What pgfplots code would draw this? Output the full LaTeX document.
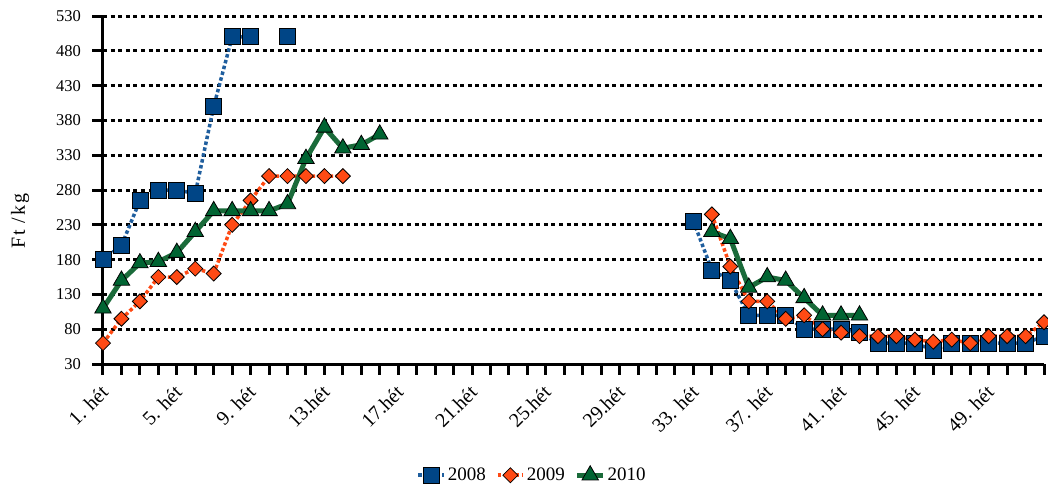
\documentclass[border=0pt]{standalone}
\usepackage{fontspec}
\setmainfont{Liberation Serif}
\usepackage{pgfplots}
\usepackage{pgfplotstable}
\pgfplotsset{compat=1.18}
\definecolor{c08}{HTML}{004586}
\definecolor{c08l}{HTML}{1F5E9E}
\definecolor{c09}{HTML}{FF4A14}
\definecolor{c10}{HTML}{006432}
\definecolor{c10l}{HTML}{1A6B3A}

\pgfplotstableread{
w a b c
1 180 60 110
2 200 95 150
3 265 120 175
4 280 155 177
5 280 155 190
6 275 167 220
7 400 160 250
8 500 230 250
9 500 265 250
10 nan 300 250
11 500 300 260
12 nan 300 325
13 nan 300 370
14 nan 300 340
15 nan nan 345
16 nan nan 360
17 nan nan nan
32 nan nan nan
33 235 nan nan
34 165 245 220
35 150 170 210
36 100 120 140
37 100 120 155
38 100 95 150
39 80 100 125
40 80 80 100
41 80 75 100
42 75 70 100
43 60 70 nan
44 60 70 nan
45 60 65 nan
46 50 62 nan
47 60 65 nan
48 60 60 nan
49 60 70 nan
50 60 70 nan
51 60 70 nan
52 70 90 nan
}\data

\begin{document}
\begin{tikzpicture}
\begin{axis}[
  name=ax,
  scale only axis, width=941pt, height=348pt,
  xmin=1, xmax=52, ymin=30, ymax=530,
  axis x line*=bottom, axis y line*=left,
  axis line style={line width=3pt, black},
  xtick={1,5,...,49},
  xticklabels={1. hét, 5. hét, 9. hét, 13.hét, 17.hét, 21.hét, 25.hét, 29.hét, 33. hét, 37. hét, 41. hét, 45. hét, 49. hét},
  minor xtick={1,...,52},
  ytick={30,80,...,530},
  tick align=outside,
  major tick length=10.5pt, minor tick length=10.5pt,
  every tick/.style={line width=3pt, black},
  every minor tick/.style={line width=3pt, black},
  ymajorgrids,
  major grid style={black, line width=3pt, dash pattern=on 4pt off 3.6pt},
  unbounded coords=jump,
  xticklabel style={xshift=4pt, yshift=-12pt, rotate=45, anchor=east, font=\fontsize{20}{22}\selectfont},
  yticklabel style={xshift=-8pt, font=\fontsize{16.5}{18}\selectfont},
  /pgf/number format/assume math mode=true,
  ylabel={Ft /kg},
  ylabel style={at={(axis description cs:-0.088,0.41)}, anchor=center, font=\fontsize{20}{22}\selectfont\addfontfeature{LetterSpace=10}},
  legend style={at={(axis description cs:0.456,-0.319)}, anchor=center, draw=none, fill=none,
    legend columns=3, font=\fontsize{19}{21}\selectfont,
    /tikz/every even column/.append style={column sep=8pt}},
  legend image code/.code={\draw[mark repeat=2,mark phase=2] plot coordinates {(0cm,0cm) (0.45cm,0cm) (0.9cm,0cm)};},
]
\addplot[c08l, line width=3.5pt, dash pattern=on 3.5pt off 2.5pt, mark=square*, mark size=8pt,
  mark options={solid, fill=c08, draw=black, line width=0.8pt}] table[x=w,y=a]{\data};
\addlegendentry{2008}
\addplot[c09, line width=3.5pt, dash pattern=on 3.5pt off 2.5pt, mark=square*, mark size=5.3pt,
  mark options={solid, rotate=45, fill=c09, draw=black, line width=0.8pt}] table[x=w,y=b]{\data};
\addlegendentry{2009}
\addplot[c10l, line width=5pt, mark=triangle*, mark size=9.5pt,
  mark options={solid, fill=c10, draw=black, line width=0.8pt}] table[x=w,y=c]{\data};
\addlegendentry{2010}
\end{axis}
\pgfresetboundingbox
\path[use as bounding box] ([shift={(-103pt,-119pt)}]ax.south west) rectangle ([shift={(4pt,16pt)}]ax.north east);
\end{tikzpicture}
\end{document}
